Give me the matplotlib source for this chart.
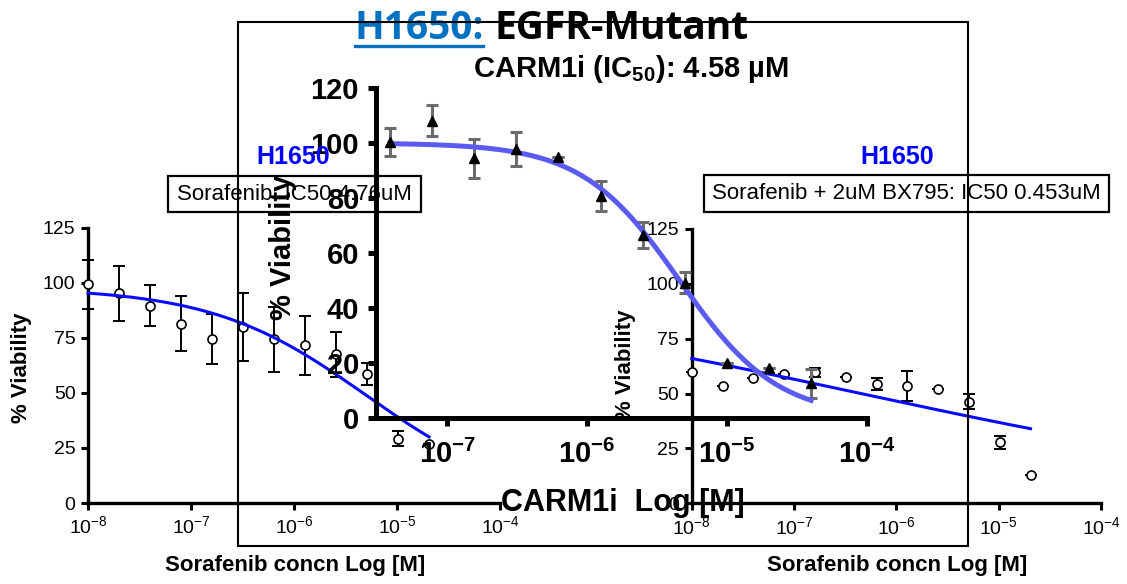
import numpy as np
import matplotlib.pyplot as plt
from matplotlib.patches import Rectangle
from matplotlib.lines import Line2D
from matplotlib.ticker import NullLocator

plt.rcParams['font.family'] = ['Liberation Sans', 'DejaVu Sans']
plt.rcParams['mathtext.fontset'] = 'custom'
plt.rcParams['mathtext.rm'] = 'Liberation Sans'
plt.rcParams['mathtext.bf'] = 'Liberation Sans:bold'

W, H = 1127, 584

# Sorafenib alone (left panel) and Sorafenib + 2uM BX795 (right panel)
sora_conc = [1e-8, 2e-8, 4e-8, 8e-8, 1.6e-7, 3.2e-7, 6.4e-7, 1.28e-6,
             2.56e-6, 5.12e-6, 1.024e-5, 2.048e-5]
sora_via = [99.4, 95.3, 89.7, 81.5, 74.4, 79.9, 74.4, 71.7, 67.7, 58.6, 29.2, 27.0]
sora_err = [11.0, 12.6, 9.3, 12.5, 11.4, 15.5, 14.7, 13.3, 10.2, 5.0, 3.4, 0.0]
sora_fit = [98.0, 0.0, -5.30, 0.58]          # top, bottom, logIC50, hill

combo_via = [59.7, 53.4, 56.9, 58.8, 59.7, 57.4, 54.4, 53.4, 51.9, 46.3, 27.8, 12.9]
combo_err = [0.0, 0.0, 0.0, 0.0, 2.0, 0.0, 2.6, 7.0, 0.0, 3.5, 3.0, 0.0]
combo_fit = [100.0, 0.0, -6.344, 0.174]

# CARM1i (middle panel)
carm_conc = [3.9e-8, 7.8e-8, 1.56e-7, 3.125e-7, 6.25e-7, 1.25e-6, 2.5e-6,
             5e-6, 1e-5, 2e-5, 4e-5]
carm_via = [100.5, 108.1, 94.4, 97.8, 94.8, 80.8, 66.5, 49.2, 20.0, 18.0, 12.5]
carm_err = [5.1, 5.6, 7.0, 6.2, 0.0, 5.4, 4.6, 3.8, 0.0, 0.0, 5.3]
carm_fit = [100.0, 0.0, -5.339, 1.245]

small_xexp = [-8, -7, -6, -5, -4]
small_yticks = [0, 25, 50, 75, 100, 125]
carm_xexp = [-7, -6, -5, -4]
carm_yticks = [0, 20, 40, 60, 80, 100, 120]


def px_rect(x0, y0, x1, y1):
    return [x0 / W, 1 - y1 / H, (x1 - x0) / W, (y1 - y0) / H]


def fx(x):
    return x / W


def fy(y):
    return 1 - y / H


def four_pl(conc, p):
    top, bottom, logic50, hill = p
    lx = np.log10(conc)
    return bottom + (top - bottom) / (1 + 10 ** ((lx - logic50) * hill))


fig = plt.figure(figsize=(W / 100, H / 100), dpi=100)


def small_panel(rect, via, err, fit, z):
    ax = fig.add_axes(rect, zorder=z)
    ax.patch.set_visible(False)
    ax.set_xscale('log')
    ax.set_xlim(1e-8, 1e-4)
    ax.set_ylim(0, 125)
    ax.spines[['top', 'right']].set_visible(False)
    ax.spines[['left', 'bottom']].set_linewidth(2.4)
    ax.set_xticks([10.0 ** e for e in small_xexp],
                  [r'$\mathregular{10^{%d}}$' % e for e in small_xexp])
    ax.xaxis.set_minor_locator(NullLocator())
    ax.set_yticks(small_yticks)
    ax.tick_params(direction='out', length=5, width=2.2, labelsize=14, pad=4)
    ax.errorbar(sora_conc, via, yerr=err, fmt='none', ecolor='k',
                elinewidth=1.4, capsize=4.5, capthick=1.4, clip_on=False, zorder=3)
    ax.plot(sora_conc, via, 'o', mfc='white', mec='k', ms=6.5, mew=1.2,
            clip_on=False, zorder=4)
    xs = np.logspace(np.log10(sora_conc[0]), np.log10(sora_conc[-1]), 200)
    ax.plot(xs, four_pl(xs, fit), color='#0a0aff', lw=2.2, clip_on=False, zorder=5)
    return ax


ax_l = small_panel(px_rect(88, 228, 500, 503), sora_via, sora_err, sora_fit, 1)
ax_r = small_panel(px_rect(691.7, 229, 1101, 503.3), combo_via, combo_err, combo_fit, 2)

# middle CARM1i panel
ax_m = fig.add_axes(px_rect(375.7, 88, 866.7, 417.7), zorder=3)
ax_m.patch.set_visible(False)
ax_m.set_xscale('log')
ax_m.set_xlim(10 ** -7.511, 1e-4)
ax_m.set_ylim(0, 120)
ax_m.spines[['top', 'right']].set_visible(False)
ax_m.spines[['left', 'bottom']].set_linewidth(3.6)
ax_m.set_xticks([10.0 ** e for e in carm_xexp],
                [r'$\mathregular{10^{%d}}$' % e for e in carm_xexp])
ax_m.xaxis.set_minor_locator(NullLocator())
ax_m.set_yticks(carm_yticks)
ax_m.tick_params(direction='out', length=6, width=3.6, labelsize=21, pad=6)
ax_m.tick_params(axis='x', pad=10)
for lab in ax_m.get_xticklabels() + ax_m.get_yticklabels():
    lab.set_fontweight('bold')
ax_m.errorbar(carm_conc, carm_via, yerr=carm_err, fmt='none', ecolor='#6b6b6b',
              elinewidth=2.2, capsize=4, capthick=2.2, clip_on=False, zorder=3)
xs = np.logspace(np.log10(carm_conc[0]), np.log10(carm_conc[-1]), 200)
ax_m.plot(xs, four_pl(xs, carm_fit), color='#5b5bf2', lw=3.6, clip_on=False, zorder=4)
ax_m.plot(carm_conc, carm_via, '^', color='k', ms=7, clip_on=False, zorder=5)

# titles
fig.text(fx(355), fy(39), 'H1650:', color='#0070c0', fontsize=28,
         family='Open Sans', weight='bold', va='baseline', ha='left')
fig.text(fx(494), fy(39), 'EGFR-Mutant', color='k', fontsize=28,
         family='Open Sans', weight='bold', va='baseline', ha='left')
fig.add_artist(Line2D([fx(355), fx(483)], [fy(45.5), fy(45.5)], color='#0070c0',
                      lw=2.4, transform=fig.transFigure))
fig.text(fx(473), fy(76.7), r'CARM1i (IC$_{\mathbf{50}}$): 4.58 µM', fontsize=21,
         weight='bold', va='baseline', ha='left')

# axis labels
fig.text(fx(283), fy(247), '% Viability', rotation=90, fontsize=21,
         weight='bold', ha='center', va='center')
fig.text(fx(622.5), fy(511), 'CARM1i  Log [M]', fontsize=22, weight='bold',
         ha='center', va='baseline')
for cx, cy, bx in [(22, 368, 295), (625, 364.5, 897)]:
    fig.text(fx(cx), fy(cy), '% Viability', rotation=90, fontsize=16,
             weight='bold', ha='center', va='center')
    fig.text(fx(bx), fy(571), 'Sorafenib concn Log [M]', fontsize=16,
             weight='bold', ha='center', va='baseline')

# panel headers and IC50 boxes
fig.text(fx(293), fy(164.3), 'H1650', color='#0000ff', fontsize=18,
         weight='bold', ha='center', va='baseline')
fig.text(fx(896.7), fy(164.3), 'H1650', color='#0000ff', fontsize=18,
         weight='bold', ha='center', va='baseline')
for (x0, y0, x1, y1), txt in [((168, 176, 421, 212), 'Sorafenib: IC50 4.76uM'),
                              ((704, 175, 1109, 212),
                               'Sorafenib + 2uM BX795: IC50 0.453uM')]:
    fig.add_artist(Rectangle((fx(x0), fy(y1)), (x1 - x0) / W, (y1 - y0) / H,
                             fill=False, ec='k', lw=1.6, transform=fig.transFigure,
                             zorder=0.5))
    fig.text(fx((x0 + x1) / 2), fy((y0 + y1) / 2), txt, fontsize=16,
             ha='center', va='center', zorder=0.5)

# big frame
fig.add_artist(Rectangle((fx(237.7), fy(545.7)), (967.7 - 237.7) / W,
                         (545.7 - 21.7) / H, fill=False, ec='k', lw=1.5,
                         transform=fig.transFigure, zorder=10))

fig.savefig('out.png', dpi=100)
